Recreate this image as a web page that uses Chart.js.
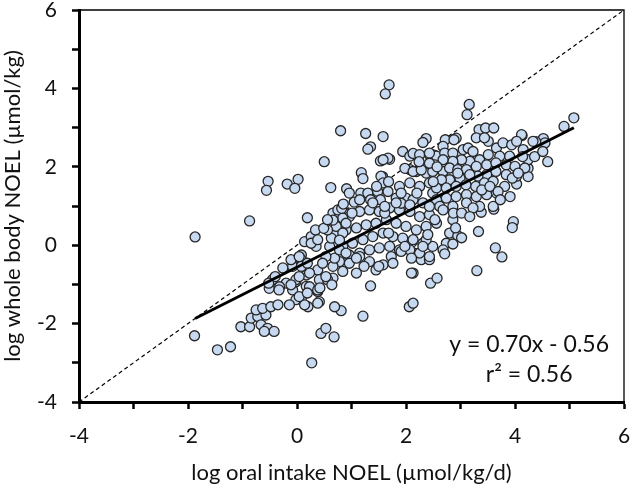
<!DOCTYPE html>
<html>
<head>
<meta charset="utf-8">
<script src="https://cdn.jsdelivr.net/npm/chart.js@4.4.1/dist/chart.umd.min.js"></script>
<style>
  html, body { margin: 0; padding: 0; background: #fff; }
  #wrap { width: 633px; height: 488px; }
</style>
</head>
<body>
<div id="wrap"><canvas id="noel_chart" width="633" height="488"></canvas></div>
<script>
// log oral intake NOEL (x) and log whole body NOEL (y)
const intakeLog = [
  -1.87,-1.88,-1.46,-1.22,-0.87,-0.53,-0.56,-0.18,0.02,-0.04,
  -1.03,-0.87,-0.84,-0.72,-0.57,-0.75,-0.63,-0.48,-0.35,-0.66,
  -0.54,-0.42,-0.60,0.27,0.44,0.53,0.68,0.81,1.21,2.06,
  2.13,1.35,2.45,2.57,3.30,3.64,3.76,3.33,3.97,3.95,
  3.61,3.38,4.60,4.90,5.08,4.52,4.55,4.38,4.13,4.24,
  4.24,4.03,3.16,3.12,3.34,3.46,3.61,1.69,1.62,0.80,
  1.26,1.58,1.35,2.37,2.31,1.94,1.53,1.70,0.50,1.18,
  1.21,1.57,0.62,0.91,1.17,0.19,2.52,2.07,2.13,2.72,
  2.92,2.11,2.15,2.13,2.28,2.43,1.30,1.67,1.58,2.25,
  2.43,2.56,1.54,1.58,1.30,1.48,1.67,1.88,2.07,2.19,
  2.07,2.37,2.43,2.25,2.49,2.00,1.82,2.13,2.31,0.66,
  0.78,0.96,1.15,1.33,1.51,1.70,1.88,2.07,2.25,2.43,
  2.56,2.37,2.19,2.00,1.82,1.64,1.45,1.27,1.09,0.90,
  0.72,0.66,0.84,1.02,1.21,1.39,1.58,1.76,1.94,2.13,
  2.31,2.49,2.43,2.25,2.07,1.88,1.70,1.51,1.33,1.15,
  0.96,0.78,0.78,0.96,1.15,1.33,1.45,1.58,1.73,1.76,
  1.91,2.10,2.10,0.66,-0.26,0.14,0.26,0.35,0.04,-0.08,
  -0.45,-0.51,-0.20,-0.08,-0.02,0.17,0.38,0.41,0.56,0.38,
  0.66,0.84,0.69,0.60,0.63,0.78,0.90,0.41,0.08,-0.02,
  -0.14,0.69,0.20,0.75,0.84,0.72,0.84,0.56,0.90,0.66,
  0.78,0.26,0.08,-0.32,-0.02,0.17,0.23,0.38,0.14,0.38,
  0.08,0.53,0.53,0.47,2.88,2.43,2.68,2.71,2.86,3.05,
  3.14,3.23,3.51,3.66,3.78,3.94,4.12,4.03,4.15,4.33,
  3.29,3.44,4.24,3.90,3.72,3.51,3.35,3.17,3.02,2.86,
  2.68,2.53,2.49,2.68,2.80,2.95,3.11,3.29,3.48,3.65,
  3.84,4.00,4.18,4.03,3.84,3.65,3.48,3.32,3.17,2.99,
  2.80,2.65,2.56,2.74,2.92,3.10,3.28,3.44,3.60,3.81,
  3.66,3.48,3.29,3.11,2.92,2.74,2.56,2.62,2.86,3.11,
  3.35,3.60,2.86,2.80,2.95,2.74,2.68,2.71,2.86,2.37,
  2.40,2.31,3.23,2.68,2.53,-0.40,-0.52,-0.33,-0.11,0.04,
  0.19,0.42,0.64,0.08,-0.11,0.04,0.19,0.04,0.23,0.38,
  0.34,0.49,0.56,0.82,1.01,1.61,1.91,2.20,2.50,2.95,
  3.39,3.54,3.69,3.95,4.06,1.98,2.13,2.28,2.24,2.43,
  2.57,1.46,1.68,1.53,1.35,1.91,1.61,0.85,1.05,2.91,
  3.02,2.87,3.02,3.17,1.68,1.50,1.98,1.09,1.23,1.09,
  4.14,4.36,4.51,3.73,3.91,0.96,1.15,1.39,1.82,2.07,
  2.43
];
const bodyLog = [
  0.21,-2.31,-2.67,-2.59,0.62,1.63,1.40,1.56,1.68,1.45,
  -2.08,-2.08,-1.86,-1.82,-1.78,-1.65,-1.61,-1.57,-1.52,-2.03,
  -2.12,-2.20,-2.20,-3.00,-2.25,-2.12,-2.34,-1.67,-1.81,-1.57,
  -1.48,-1.04,-0.97,-0.84,-0.65,-0.07,-0.30,0.35,0.60,0.45,
  0.92,0.84,2.13,3.03,3.25,2.72,2.61,2.64,2.80,1.96,
  1.75,1.56,3.59,3.33,2.95,2.99,2.99,4.09,3.86,2.92,
  2.85,2.77,2.51,2.72,2.62,2.39,2.15,2.19,2.13,1.85,
  1.70,1.75,1.47,1.44,1.33,0.70,2.30,2.27,2.34,2.69,
  2.73,0.08,-0.20,-0.71,-0.37,-0.37,2.45,2.22,2.18,2.31,
  2.31,2.27,1.76,1.59,1.33,1.37,1.37,1.50,1.59,1.88,
  1.93,1.84,1.59,1.50,1.33,1.20,1.20,1.16,1.08,0.82,
  0.73,0.73,0.86,0.90,0.86,0.95,0.90,0.86,0.73,0.78,
  0.56,0.48,0.39,0.48,0.56,0.65,0.56,0.52,0.44,0.39,
  0.31,0.05,-0.03,0.05,0.14,0.22,0.31,0.22,0.18,0.14,
  0.05,-0.03,-0.29,-0.20,-0.12,-0.12,-0.03,-0.07,-0.12,-0.20,
  -0.25,-0.29,-0.42,-0.46,-0.29,-0.42,-0.63,-0.50,-0.29,-0.46,
  -0.16,-0.33,-0.71,-0.84,-0.58,0.09,0.22,-0.03,-0.37,-0.54,
  -0.88,-1.10,-0.97,-1.14,-0.93,-1.05,-0.63,-0.88,-0.88,-1.18,
  -0.54,-0.67,-0.33,-0.03,0.18,-0.12,-0.20,-1.44,-1.35,-1.39,
  -1.52,-1.57,-1.57,0.90,0.69,0.48,0.31,0.39,0.56,0.64,
  0.13,0.05,-0.25,-1.06,-0.88,-0.76,-1.06,-1.14,-1.52,-1.48,
  -0.37,-0.29,-0.80,-0.46,2.69,2.35,2.52,2.35,2.35,2.44,
  2.48,2.39,2.65,2.48,2.61,2.56,2.82,2.65,2.44,2.65,
  2.74,2.74,2.18,2.27,2.27,2.31,2.18,2.14,2.18,2.14,
  2.18,2.05,1.88,1.88,1.97,1.93,1.93,2.01,2.05,2.10,
  2.05,2.01,1.97,1.76,1.80,1.88,1.80,1.76,1.80,1.71,
  1.67,1.67,1.46,1.46,1.50,1.54,1.50,1.59,1.63,1.50,
  1.33,1.29,1.24,1.29,1.24,1.20,1.16,0.99,0.99,1.08,
  0.99,0.99,0.65,0.31,0.24,0.05,-0.12,-0.22,0.03,0.14,
  0.27,-0.03,0.95,0.90,0.65,-0.80,-0.97,-1.14,-1.01,-1.31,
  -1.22,-1.09,-1.01,-0.54,-0.37,-0.29,-0.46,-0.80,-0.71,0.14,
  0.39,0.43,0.65,0.94,0.82,0.82,1.07,1.33,1.62,1.84,
  1.41,1.50,1.37,1.71,1.84,1.96,1.88,1.92,2.13,2.09,
  2.00,1.50,1.62,1.16,1.16,1.33,0.99,1.05,1.10,0.44,
  0.19,0.82,0.82,0.73,0.31,-0.54,-0.03,-0.33,-0.54,-0.71,
  2.26,2.26,2.39,1.16,1.24,1.33,1.16,1.08,1.08,1.03,
  0.99
];

// fitted line y = 0.70x - 0.56 and its x span
const fitSlope = 0.70;
const fitIntercept = -0.56;
const fitRange = [-1.87, 5.08];
const axisRange = [-4, 6];
const eqLines = ["y = 0.70x - 0.56", "r\u00B2 = 0.56"];

const FONT = "Lato, 'Open Sans', sans-serif";

const points = intakeLog.map((x, i) => ({x: x, y: bodyLog[i]}));
const fitLine = fitRange.map(x => ({x: x, y: fitSlope * x + fitIntercept}));
const unityLine = axisRange.map(v => ({x: v, y: v}));

// thin box on top/right and the equation text
const framePlugin = {
    id: "frame",
    afterDatasetsDraw(chart) {
        const {ctx, chartArea: a, scales} = chart;
        ctx.save();
        ctx.strokeStyle = "#000";
        ctx.lineWidth = 1.3;
        ctx.beginPath();
        ctx.moveTo(a.left, a.top);
        ctx.lineTo(a.right, a.top);
        ctx.lineTo(a.right, a.bottom);
        ctx.stroke();

        ctx.fillStyle = "#111";
        ctx.font = "23px " + FONT;
        ctx.textAlign = "center";
        ctx.textBaseline = "middle";
        const cx = scales.x.getPixelForValue(4.26);
        ctx.fillText(eqLines[0], cx, scales.y.getPixelForValue(-2.54));
        ctx.fillText(eqLines[1], cx, scales.y.getPixelForValue(-3.31));
        ctx.restore();
    }
};

function axis(title, fit) {
    return {
        type: "linear",
        min: axisRange[0],
        max: axisRange[1],
        afterFit: fit,
        ticks: {
            stepSize: 1,
            padding: 15,
            color: "#111",
            font: {family: FONT, size: 21},
            callback: v => (v % 2 === 0 ? v : "")
        },
        grid: {
            drawOnChartArea: false,
            drawTicks: true,
            tickLength: 7,
            tickWidth: 2.5,
            tickColor: "#000"
        },
        border: {display: true, width: 3, color: "#000"},
        title: {
            display: true,
            text: title,
            color: "#111",
            font: {family: FONT, size: 22},
            padding: {top: 0, bottom: 2}
        }
    };
}

const ctx = document.getElementById("noel_chart");
new Chart(ctx, {
    type: "scatter",
    data: {
        datasets: [
            {
                label: "fit",
                data: fitLine,
                showLine: true,
                borderColor: "#000",
                borderWidth: 3,
                pointRadius: 0,
                order: 1
            },
            {
                label: "NOEL",
                data: points,
                backgroundColor: "#c6d9f1",
                borderColor: "#262626",
                borderWidth: 1.3,
                pointRadius: 5,
                order: 2
            },
            {
                label: "1:1",
                data: unityLine,
                showLine: true,
                borderColor: "#000",
                borderWidth: 1.2,
                borderDash: [4, 3],
                pointRadius: 0,
                order: 3
            }
        ]
    },
    options: {
        responsive: false,
        animation: false,
        layout: {padding: {top: 10, right: 9, left: 0, bottom: 0}},
        plugins: {
            legend: {display: false},
            tooltip: {enabled: false}
        },
        scales: {
            x: axis("log oral intake NOEL (\u00B5mol/kg/d)", s => {
                s.height = 86;
                s.paddingLeft = 0;
                s.paddingRight = 0;
            }),
            y: axis("log whole body NOEL (\u00B5mol/kg)", s => {
                s.width = 79;
                s.paddingTop = 0;
                s.paddingBottom = 0;
            })
        }
    },
    plugins: [framePlugin]
});
</script>
</body>
</html>
